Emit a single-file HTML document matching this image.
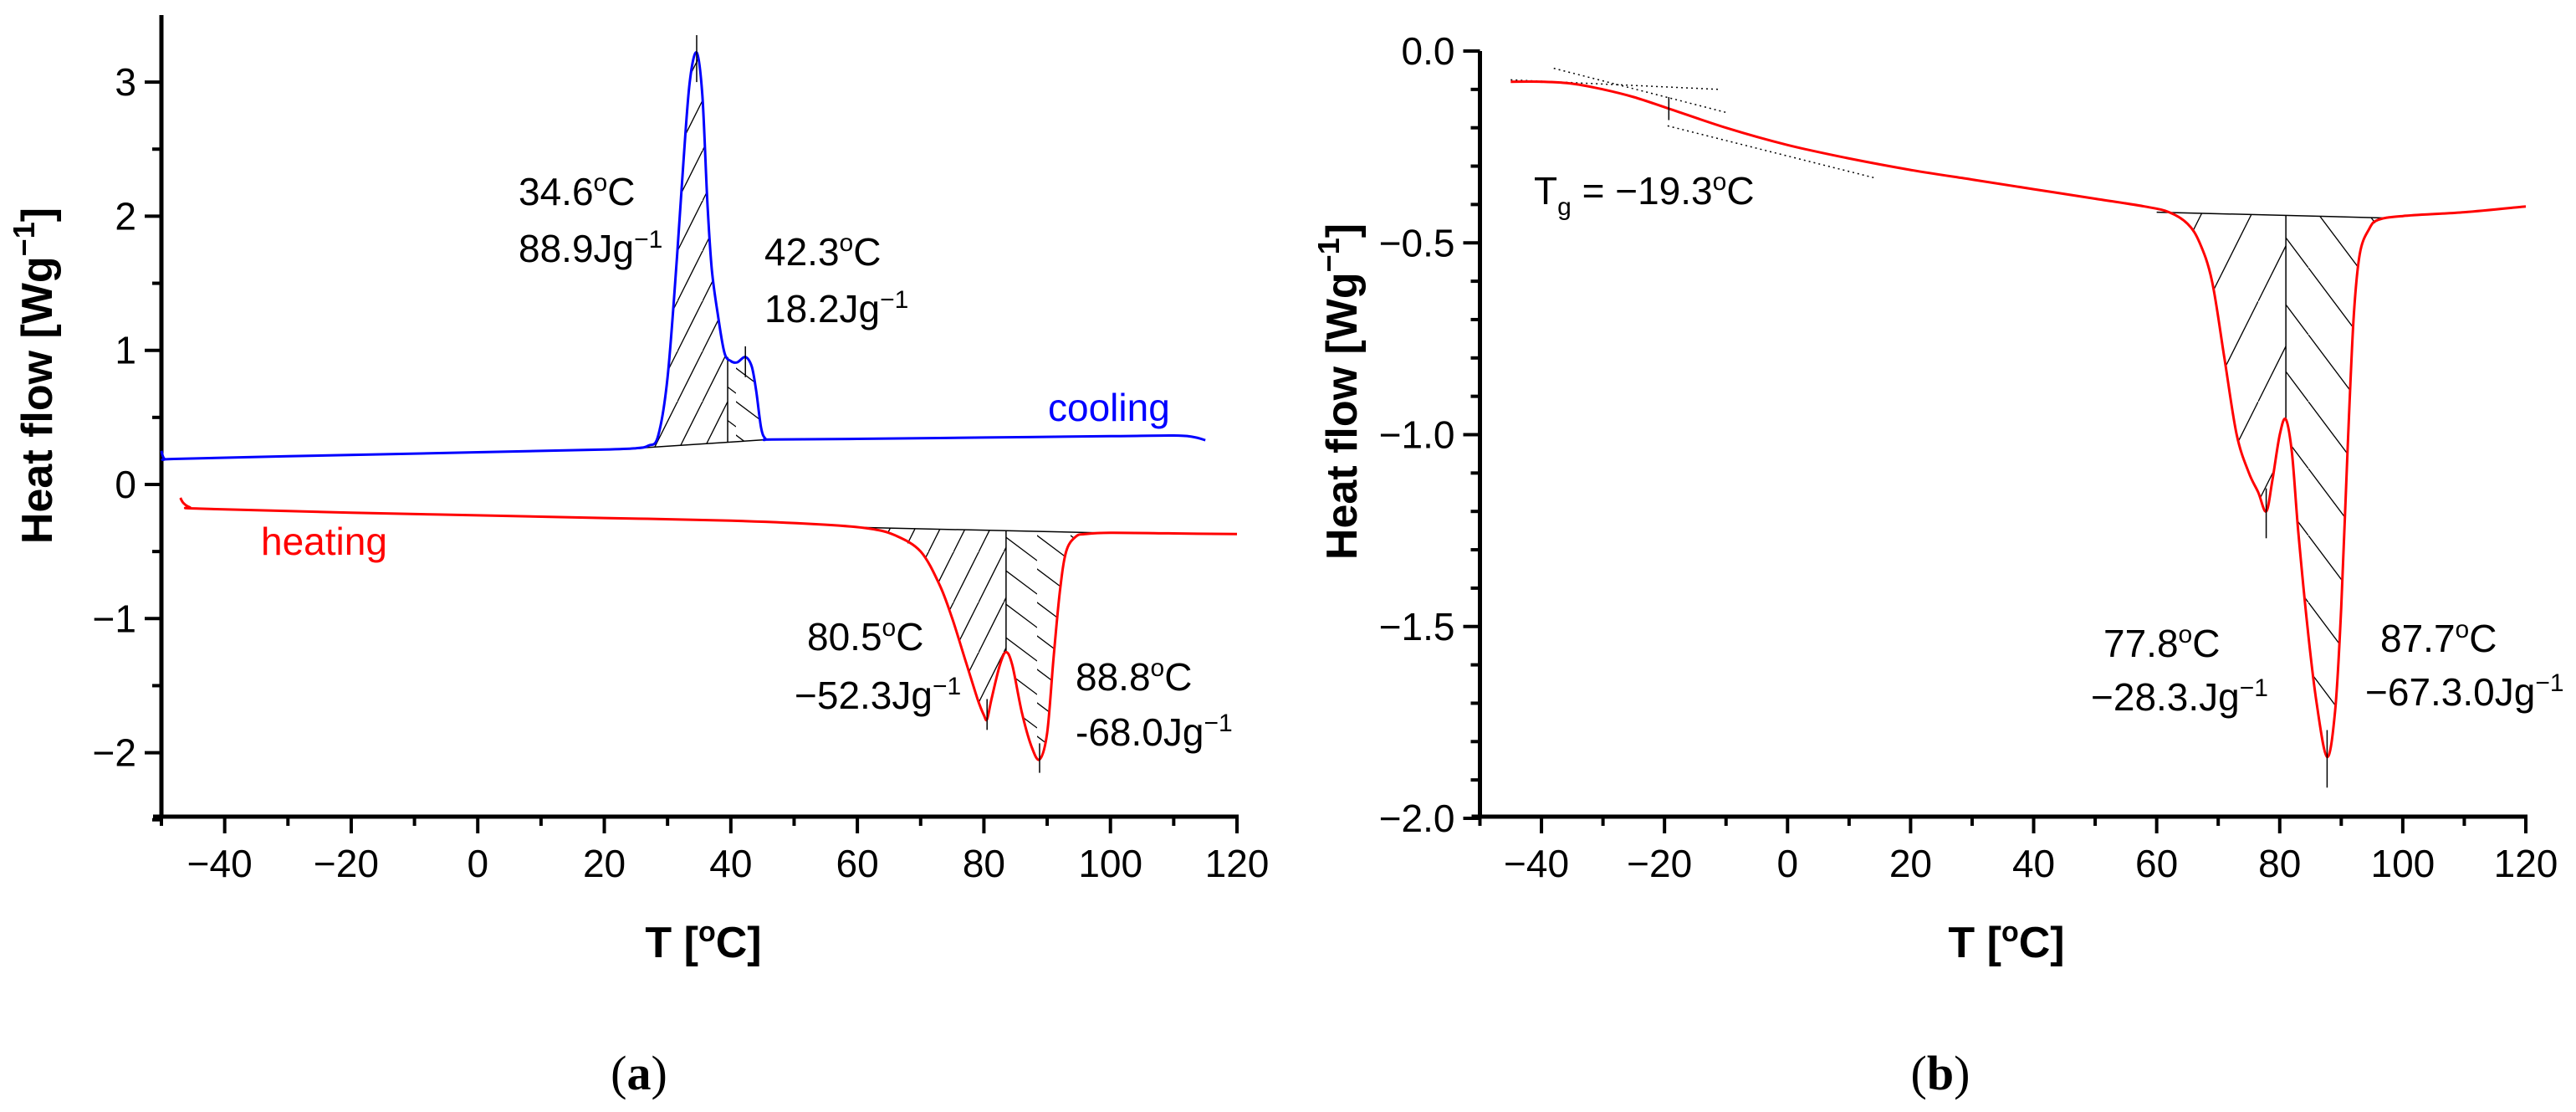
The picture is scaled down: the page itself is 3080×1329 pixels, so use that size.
<!DOCTYPE html>
<html><head><meta charset="utf-8"><title>DSC thermograms</title>
<style>
html,body{margin:0;padding:0;background:#fff;width:3080px;height:1329px;overflow:hidden}
svg{display:block}
text{font-family:"Liberation Sans",Arial,sans-serif;fill:#000}
.tick{font-size:46px}
.ann{font-size:46px}
.ttl{font-size:52px;font-weight:bold}
.cap{font-family:"Liberation Serif",serif;font-size:58px}
</style></head>
<body>
<svg id="svg" width="3080" height="1329" viewBox="0 0 3080 1329" xmlns="http://www.w3.org/2000/svg">
<defs>
<pattern id="hatchF" patternUnits="userSpaceOnUse" width="30" height="60"><line x1="-30" y1="60" x2="30" y2="-60" stroke="#000" stroke-width="1.3"/><line x1="0" y1="60" x2="60" y2="-60" stroke="#000" stroke-width="1.3"/><line x1="-60" y1="120" x2="0" y2="0" stroke="#000" stroke-width="1.3"/></pattern>
<pattern id="hatchB" patternUnits="userSpaceOnUse" width="40" height="40"><line x1="0" y1="0" x2="40" y2="30" stroke="#000" stroke-width="1.3"/><line x1="-40" y1="10" x2="40" y2="70" stroke="#000" stroke-width="1.3"/></pattern>
<pattern id="hatchF2" patternUnits="userSpaceOnUse" width="60" height="120"><line x1="0" y1="120" x2="60" y2="0" stroke="#000" stroke-width="1.3"/></pattern>
<pattern id="hatchB2" patternUnits="userSpaceOnUse" width="60" height="80"><line x1="0" y1="0" x2="60" y2="80" stroke="#000" stroke-width="1.3"/></pattern>
</defs>
<g id="gA"></g>
<g id="gB"></g>
</svg>
<script>
// ---- Panel (a) data ----
const coolT = [-50,-49.5,-48,-30,0,20,25,27,28.5,30,31.5,32.5,33.5,34.6,35.5,36.3,37,38,39,40,41,42.3,43.3,44,44.8,45.5,46.5,60,80,100,110,113,115];
const coolQ = [0.25,0.19,0.19,0.21,0.24,0.26,0.27,0.29,0.36,0.8,1.7,2.4,3.0,3.22,2.9,2.1,1.6,1.25,0.98,0.92,0.91,0.95,0.88,0.7,0.42,0.34,0.335,0.34,0.35,0.36,0.365,0.355,0.33];
const heatT = [-47,-46.5,-45.5,-44,-20,0,20,40,55,62,66,70,73,75,77,79,80,80.5,81.2,82.5,83.5,84.5,86,87.5,88.8,90,91,92,93,94.5,96,100,110,120];
const heatQ = [-0.1,-0.14,-0.17,-0.18,-0.21,-0.23,-0.25,-0.27,-0.3,-0.33,-0.38,-0.5,-0.75,-1.0,-1.3,-1.6,-1.72,-1.75,-1.6,-1.35,-1.25,-1.35,-1.7,-1.95,-2.05,-1.85,-1.3,-0.8,-0.5,-0.39,-0.37,-0.36,-0.365,-0.37];
const aXTicks = [-40,-20,0,20,40,60,80,100,120];
const aYTicks = [-2,-1,0,1,2,3];
const aYLabels = ["\u22122","\u22121","0","1","2","3"];
const coolBase = [[25,0.27],[46,0.335]];
const coolSplit = 39.5;
const heatBase = [[60,-0.32],[98,-0.36]];
const heatSplit = 83.5;
const aPeaks = [[34.6,3.35,3.0],[42.3,1.03,0.8],[80.5,-1.6,-1.83],[88.8,-1.93,-2.15]];
// ---- Panel (b) data ----
const bT = [-45,-40,-35,-30,-25,-19.3,-10,0,10,20,30,40,50,58,62,65,67,69,71,73,75,76.5,77.8,78.8,80,81,82,83,84.5,86,87.7,89,90,91,92,93,94.5,96,100,110,120];
const bQ = [-0.08,-0.08,-0.085,-0.1,-0.12,-0.15,-0.2,-0.245,-0.28,-0.31,-0.335,-0.36,-0.385,-0.405,-0.42,-0.45,-0.5,-0.6,-0.8,-1.0,-1.1,-1.15,-1.2,-1.12,-1.0,-0.96,-1.05,-1.25,-1.5,-1.7,-1.84,-1.72,-1.45,-1.05,-0.7,-0.53,-0.465,-0.44,-0.43,-0.42,-0.405];
const bXTicks = [-40,-20,0,20,40,60,80,100,120];
const bYTicks = [0,-0.5,-1,-1.5,-2];
const bYLabels = ["0.0","\u22120.5","\u22121.0","\u22121.5","\u22122.0"];
const bBase = [[60,-0.42],[97,-0.435]];
const bSplit = 81;
const bPeaks = [[77.8,-1.14,-1.27],[87.7,-1.77,-1.92],[-19.3,-0.12,-0.18]];
const bTangents = [[-45,-0.075,-11,-0.1],[-38,-0.045,-10,-0.16],[-19.5,-0.195,14,-0.33]];

const NS="http://www.w3.org/2000/svg";
function mk(parent,tag,attrs,txt){const e=document.createElementNS(NS,tag);for(const k in attrs)e.setAttribute(k,attrs[k]);if(txt!==undefined)e.textContent=txt;parent.appendChild(e);return e;}
function smooth(pts){let d="M"+pts[0][0].toFixed(1)+","+pts[0][1].toFixed(1);for(let i=0;i<pts.length-1;i++){const p0=pts[Math.max(0,i-1)],p1=pts[i],p2=pts[i+1],p3=pts[Math.min(pts.length-1,i+2)];const c1=[p1[0]+(p2[0]-p0[0])/6,p1[1]+(p2[1]-p0[1])/6],c2=[p2[0]-(p3[0]-p1[0])/6,p2[1]-(p3[1]-p1[1])/6];d+="C"+c1[0].toFixed(1)+","+c1[1].toFixed(1)+" "+c2[0].toFixed(1)+","+c2[1].toFixed(1)+" "+p2[0].toFixed(1)+","+p2[1].toFixed(1);}return d;}
function interp(T,Q,t){for(let i=0;i<T.length-1;i++){if(t>=T[i]&&t<=T[i+1]){return Q[i]+(Q[i+1]-Q[i])*(t-T[i])/(T[i+1]-T[i]);}}return Q[Q.length-1];}

function axes(g,X,Y,x0,x1,yTop,yBot,xTicks,yTicks,yLabels,yMinor,xTitleX,yTitleX,yTitleY,cap,capX){
  const ax=mk(g,"line",{x1:X(x0),y1:yTop,x2:X(x0),y2:yBot,stroke:"#000","stroke-width":5});
  
  
  const bx=mk(g,"line",{x1:X(x0)-10,y1:yBot,x2:X(x1)+2,y2:yBot,stroke:"#000","stroke-width":5});
  
  
  for(let t=x0;t<=x1;t+=10){const major=aXTicks.includes(t);mk(g,"line",{x1:X(t),y1:yBot,x2:X(t),y2:yBot+(major?20:11),stroke:"#000","stroke-width":4});}
  xTicks.forEach(t=>{const e=mk(g,"text",{x:X(t)-(t<0?6:0),y:yBot+72,"text-anchor":"middle",class:"tick"},(t<0?"\u2212":"")+Math.abs(t));
    
    });
  yMinor.forEach(v=>{mk(g,"line",{x1:X(x0)-11,y1:Y(v),x2:X(x0),y2:Y(v),stroke:"#000","stroke-width":4});});
  yTicks.forEach((v,i)=>{mk(g,"line",{x1:X(x0)-20,y1:Y(v),x2:X(x0),y2:Y(v),stroke:"#000","stroke-width":4});
    const e=mk(g,"text",{x:X(x0)-30,y:Y(v)+16,"text-anchor":"end",class:"tick"},yLabels[i]);
    
    });
  const xt=mk(g,"text",{x:xTitleX,y:yBot+168,"text-anchor":"middle",class:"ttl"});
  
  
  xt.innerHTML='T [<tspan dy="-19" font-size="34">o</tspan><tspan dy="19">C]</tspan>';
  const yt=mk(g,"text",{x:0,y:0,"text-anchor":"middle",class:"ttl",transform:`translate(${yTitleX},${yTitleY}) rotate(-90)`});
  
  
  yt.innerHTML='Heat flow [Wg<tspan dy="-21" font-size="36">\u22121</tspan><tspan dy="21">]</tspan>';
  const c=mk(g,"text",{x:capX,y:1302,"text-anchor":"middle",class:"cap"});
  
  
  c.innerHTML='(<tspan font-weight="bold">'+cap+'</tspan>)';
}
function ann(g,x,y,main,sup,tail,color,name){
  const e=mk(g,"text",{x:x,y:y,class:"ann",fill:color||"#000"});
  
  
  e.innerHTML=main+(sup?'<tspan dy="-17" font-size="30">'+sup+'</tspan><tspan dy="17">'+tail+'</tspan>':'');
  if(color) e.style.fill=color;
}
function hatchRegion(g,T,Q,X,Y,base,split,pat1,pat2,name){
  const [b0,b1]=base;
  const bq=t=>b0[1]+(b1[1]-b0[1])*(t-b0[0])/(b1[0]-b0[0]);
  [[b0[0],split,pat1],[split,b1[0],pat2]].forEach(([ta,tb,p])=>{
    const pts=[];const n=80;
    for(let i=0;i<=n;i++){const t=ta+(tb-ta)*i/n;pts.push(X(t)+","+Y(interp(T,Q,t)));}
    pts.push(X(tb)+","+Y(bq(tb)));pts.push(X(ta)+","+Y(bq(ta)));
    const poly=mk(g,"polygon",{points:pts.join(" "),fill:"url(#"+p+")",stroke:"none"});
    
    
  });
  const bl=mk(g,"line",{x1:X(b0[0]),y1:Y(b0[1]),x2:X(b1[0]),y2:Y(b1[1]),stroke:"#000","stroke-width":1.5});
  
  
  const sv=mk(g,"line",{x1:X(split),y1:Y(bq(split)),x2:X(split),y2:Y(interp(T,Q,split)),stroke:"#000","stroke-width":1.5});
  
  
}

// ---- Panel a ----
(function(){
  const g=document.getElementById("gA");
  const X=t=>193+(t+50)*(1479-193)/170;
  const Y=v=>579-v*160.3;
  const minor=[-2.5,-1.5,-0.5,0.5,1.5,2.5];
  axes(g,X,Y,-50,120,18,976,aXTicks,aYTicks,aYLabels,minor,841,62,449,"a",764);
  hatchRegion(g,coolT,coolQ,X,Y,coolBase,coolSplit,"hatchF","hatchB","cooling-peak-area");
  hatchRegion(g,heatT,heatQ,X,Y,heatBase,heatSplit,"hatchF","hatchB","heating-peak-area");
  const c=mk(g,"path",{d:smooth(coolT.map((t,i)=>[X(t),Y(coolQ[i])])),fill:"none",stroke:"#0000ff","stroke-width":3});
  
  
  const h=mk(g,"path",{d:smooth(heatT.map((t,i)=>[X(t),Y(heatQ[i])])),fill:"none",stroke:"#ff0000","stroke-width":3});
  
  
  aPeaks.forEach(p=>{const l=mk(g,"line",{x1:X(p[0]),y1:Y(p[1]),x2:X(p[0]),y2:Y(p[2]),stroke:"#000","stroke-width":1.5});
    
    });
  ann(g,620,245,"34.6","o","C",null,"peak-label-temp");
  ann(g,620,313,"88.9Jg","\u22121","",null,"peak-label-enthalpy");
  ann(g,914,317,"42.3","o","C",null,"peak-label-temp");
  ann(g,914,385,"18.2Jg","\u22121","",null,"peak-label-enthalpy");
  ann(g,1253,503,"cooling","","","#0000ff","cooling-label");
  ann(g,312,663,"heating","","","#ff0000","heating-label");
  ann(g,965,777,"80.5","o","C",null,"peak-label-temp");
  ann(g,950,847,"\u221252.3Jg","\u22121","",null,"peak-label-enthalpy");
  ann(g,1286,825,"88.8","o","C",null,"peak-label-temp");
  ann(g,1286,891,"-68.0Jg","\u22121","",null,"peak-label-enthalpy");
})();

// ---- Panel b ----
(function(){
  const g=document.getElementById("gB");
  const X=t=>1769.5+(t+50)*(3020-1769.5)/170;
  const Y=v=>61-v*458.5;
  const minor=[-0.1,-0.2,-0.3,-0.4,-0.6,-0.7,-0.8,-0.9,-1.1,-1.2,-1.3,-1.4,-1.6,-1.7,-1.8,-1.9];
  axes(g,X,Y,-50,120,61,976,bXTicks,bYTicks,bYLabels,minor,2399,1622,468,"b",2320);
  hatchRegion(g,bT,bQ,X,Y,bBase,bSplit,"hatchF2","hatchB2","melting-peak-area");
  bTangents.forEach(s=>{const l=mk(g,"line",{x1:X(s[0]),y1:Y(s[1]),x2:X(s[2]),y2:Y(s[3]),stroke:"#000","stroke-width":1.5,"stroke-dasharray":"2,4"});
    
    });
  const h=mk(g,"path",{d:smooth(bT.map((t,i)=>[X(t),Y(bQ[i])])),fill:"none",stroke:"#ff0000","stroke-width":3});
  
  
  bPeaks.forEach(p=>{const l=mk(g,"line",{x1:X(p[0]),y1:Y(p[1]),x2:X(p[0]),y2:Y(p[2]),stroke:"#000","stroke-width":1.5});
    
    });
  const tg=mk(g,"text",{x:1834,y:244,class:"ann"});
  
  
  tg.innerHTML='T<tspan dy="13" font-size="30">g</tspan><tspan dy="-13"> = \u221219.3</tspan><tspan dy="-17" font-size="30">o</tspan><tspan dy="17">C</tspan>';
  ann(g,2515,785,"77.8","o","C",null,"peak-label-temp");
  ann(g,2500,849,"\u221228.3.Jg","\u22121","",null,"peak-label-enthalpy");
  ann(g,2846,779,"87.7","o","C",null,"peak-label-temp");
  ann(g,2828,843,"\u221267.3.0Jg","\u22121","",null,"peak-label-enthalpy");
})();
</script>
</body></html>
